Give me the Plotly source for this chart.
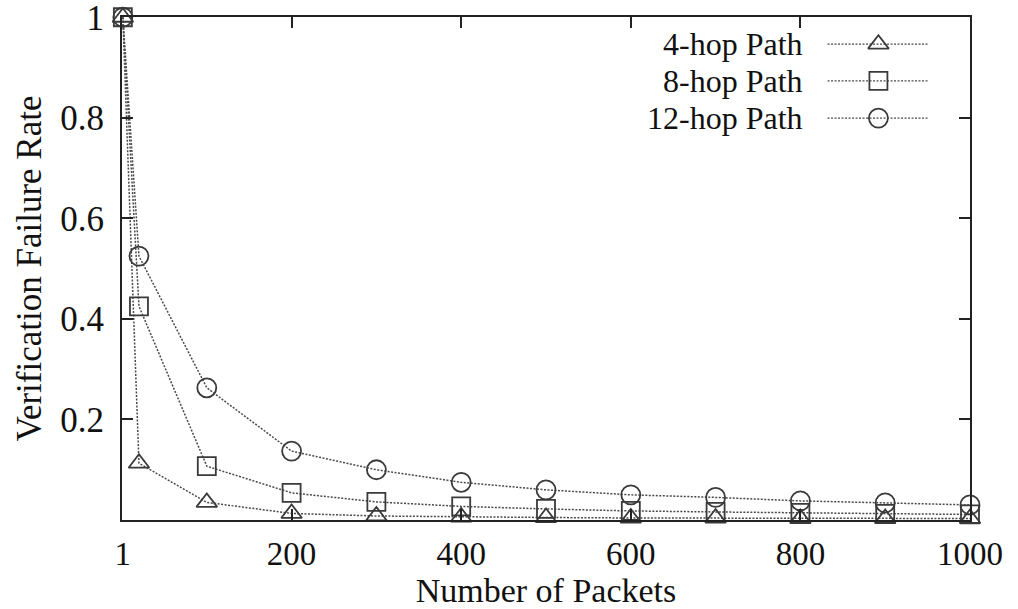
import plotly.graph_objects as go

packets = [1, 20, 100, 200, 300, 400, 500, 600, 700, 800, 900, 1000]
hop4 = [1.0, 0.113, 0.035, 0.013, 0.008, 0.006, 0.005, 0.004, 0.004, 0.003, 0.003, 0.003]
hop8 = [1.0, 0.425, 0.107, 0.054, 0.036, 0.027, 0.022, 0.018, 0.016, 0.014, 0.012, 0.011]
hop12 = [1.0, 0.525, 0.263, 0.137, 0.100, 0.075, 0.060, 0.050, 0.045, 0.038, 0.034, 0.030]
series_names = ["4-hop Path", "8-hop Path", "12-hop Path"]
x_ticks = [1, 200, 400, 600, 800, 1000]
y_ticks = [0.2, 0.4, 0.6, 0.8, 1]

FONT = "Liberation Serif"
FS = 35
LFS = 32
LINE_C = "#4a4a4a"
MARK_C = "#3a3a3a"
symbols = ["triangle-up-open", "square-open", "circle-open"]
sizes = [18, 18, 19]

fig = go.Figure()
for name, ys, sym, sz in zip(series_names, [hop4, hop8, hop12], symbols, sizes):
    fig.add_trace(go.Scatter(
        x=packets, y=ys, mode="lines+markers", name=name, showlegend=False,
        line=dict(color=LINE_C, width=1.5, dash="2px,1.5px"),
        marker=dict(symbol=sym, size=sz, color=MARK_C, line=dict(color=MARK_C, width=1.8)),
        cliponaxis=False,
    ))

# custom gnuplot-style legend (text left, sample right)
leg_rows = [0.946, 0.873, 0.799]
for name, sym, sz, yr in zip(series_names, symbols, sizes, leg_rows):
    fig.add_trace(go.Scatter(
        x=[0.832, 0.892, 0.95], y=[yr, yr, yr], xaxis="x2", yaxis="y2",
        mode="lines", showlegend=False, hoverinfo="skip",
        line=dict(color=LINE_C, width=1.3, dash="2px,1.5px"),
    ))
    fig.add_trace(go.Scatter(
        x=[0.892], y=[yr], xaxis="x2", yaxis="y2", mode="markers",
        showlegend=False, hoverinfo="skip",
        marker=dict(symbol=sym, size=sz, color=MARK_C, line=dict(color=MARK_C, width=1.8)),
    ))
    fig.add_annotation(x=0.806, y=yr, xref="x2", yref="y2", text=name,
                       showarrow=False, xanchor="right", yanchor="middle",
                       font=dict(family=FONT, size=LFS, color="#111"))

axis_common = dict(
    showline=True, linecolor="#222", linewidth=2, mirror="ticks",
    ticks="inside", ticklen=11, tickwidth=1.5, tickcolor="#222",
    showgrid=False, zeroline=False, automargin=False,
)
fig.update_layout(
    width=1018, height=609,
    margin=dict(l=122, r=48, t=17, b=89),
    paper_bgcolor="white", plot_bgcolor="white",
    showlegend=False,
    xaxis=dict(range=[0, 1000], tickvals=x_ticks, ticktext=[str(v) for v in x_ticks],
               ticklabelstandoff=3,
               tickfont=dict(family=FONT, size=33, color="#111"),
               title=dict(text="Number of Packets", font=dict(family=FONT, size=34, color="#111"),
                          standoff=2),
               **axis_common),
    yaxis=dict(range=[0, 1.0005], tickvals=y_ticks, ticktext=["0.2", "0.4", "0.6", "0.8", "1"],
               ticklabeloverflow="allow", ticklabelstandoff=9,
               tickfont=dict(family=FONT, size=FS, color="#111"),
               title=dict(text="Verification Failure Rate", font=dict(family=FONT, size=FS, color="#111"),
                          standoff=8),
               **axis_common),
    xaxis2=dict(range=[0, 1], overlaying="x", visible=False, fixedrange=True),
    yaxis2=dict(range=[0, 1], overlaying="y", visible=False, fixedrange=True),
)

fig.write_html("out.html")
